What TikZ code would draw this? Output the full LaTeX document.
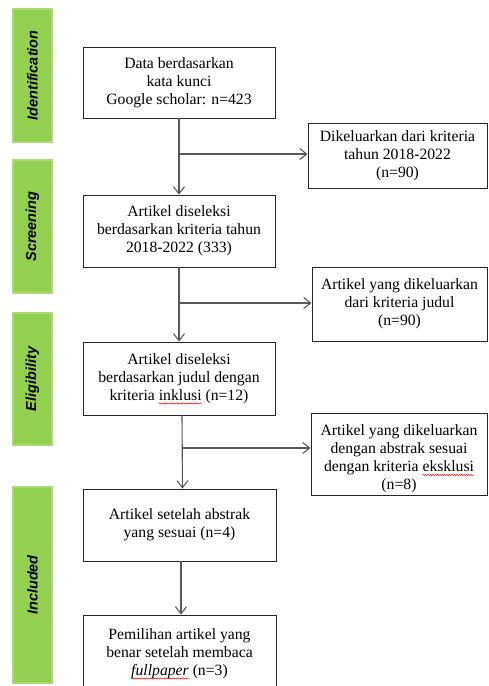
\documentclass[tikz,border=0pt]{standalone}
\usepackage{fontspec}
\setmainfont{Liberation Serif}
\setsansfont{Liberation Sans}
\usetikzlibrary{arrows.meta,calc,decorations.pathmorphing}
\definecolor{barfill}{HTML}{92D050}
\definecolor{baredge}{HTML}{A9DA74}
\definecolor{lineg}{HTML}{595959}
\newcommand{\boxfont}{\fontsize{15.7}{18}\selectfont}
\newlength\fullA \newlength\preA \newlength\wordA
\newlength\fullB \newlength\preB \newlength\wordB
\newlength\fullC \newlength\preC \newlength\wordC
\begin{document}
\settowidth{\fullA}{\boxfont kriteria inklusi (n=12)}
\settowidth{\preA}{\boxfont kriteria }
\settowidth{\wordA}{\boxfont inklusi}
\settowidth{\fullB}{\boxfont dengan kriteria eksklusi}
\settowidth{\preB}{\boxfont dengan kriteria }
\settowidth{\wordB}{\boxfont eksklusi}
\settowidth{\fullC}{\boxfont \textit{fullpaper} (n=3)}
\settowidth{\preC}{\boxfont }
\settowidth{\wordC}{\boxfont \textit{fullpaper}}
\begin{tikzpicture}[x=1pt,y=-1pt,
  bar/.style={fill=barfill,draw=baredge,line width=1.2pt,minimum width=39pt,inner sep=0pt},
  barlabel/.style={rotate=90,font=\fontsize{14.5}{17}\selectfont\sffamily\bfseries\itshape},
  box/.style={draw=black!85,line width=0.9pt,inner sep=0pt},
  boxtext/.style={align=center,font=\boxfont,inner sep=0pt},
  conn/.style={draw=lineg,line width=1.1pt},
  arr/.style={conn,-{Straight Barb[length=7pt,width=11pt,line width=1.1pt]}},
  spell/.style={draw=red,line width=0.5pt,decorate,decoration={snake,amplitude=0.6pt,segment length=2.4pt}}]
\useasboundingbox (0,0) rectangle (488,686);
\clip (0,0) rectangle (488,686);
% stage bars
\node[bar,minimum height=133pt] (s1) at (32.5,75.5) {};
\node[barlabel] (l1) at (s1) {Identification};
\node[bar,minimum height=133pt] (s2) at (32.5,226.5) {};
\node[barlabel] (l2) at (s2) {Screening};
\node[bar,minimum height=132pt] (s3) at (32.5,379) {};
\node[barlabel] (l3) at (s3) {Eligibility};
\node[bar,minimum height=196pt] (s4) at (32.5,585) {};
\node[barlabel] (l4) at (s4) {Included};
% main boxes
\node[box,boxtext,minimum width=192pt,minimum height=71pt] (b1) at (179,82.5)
  {Data berdasarkan\\kata kunci\\Google scholar: n=423};
\node[box,boxtext,minimum width=192pt,minimum height=72pt] (b2) at (179,231)
  {Artikel diseleksi\\berdasarkan kriteria tahun\\2018-2022 (333)};
\node[box,boxtext,minimum width=192pt,minimum height=73pt] (b3) at (179,378.5)
  {Artikel diseleksi\\berdasarkan judul dengan\\kriteria inklusi (n=12)};
\node[box,boxtext,minimum width=193pt,minimum height=72pt] (b4) at (179.5,525)
  {Artikel setelah abstrak\\yang sesuai (n=4)};
\node[box,boxtext,minimum width=193pt,minimum height=77pt] (b5) at (179.5,653.5)
  {Pemilihan artikel yang\\benar setelah membaca\\\textit{fullpaper} (n=3)};
% excluded boxes
\node[box,boxtext,minimum width=179pt,minimum height=65pt] (e1) at (397.5,155.5)
  {Dikeluarkan dari kriteria\\tahun 2018-2022\\(n=90)};
\node[box,boxtext,minimum width=175pt,minimum height=74pt] (e2) at (399.5,304)
  {Artikel yang dikeluarkan\\dari kriteria judul\\(n=90)};
\node[box,minimum width=176pt,minimum height=82pt] (e3) at (399,454) {};
\node[boxtext] (e3t) at (399,459)
  {Artikel yang dikeluarkan\\dengan abstrak sesuai\\dengan kriteria eksklusi\\(n=8)};
% spell-check underlines
\coordinate (wa) at ([xshift=-0.5\fullA+\preA,yshift=-25pt]b3.center);
\draw[spell] (wa) -- ++(\wordA,0pt);
\coordinate (wb) at ([xshift=-0.5\fullB+\preB,yshift=-16pt]e3t.center);
\draw[spell] (wb) -- ++(\wordB,0pt);
\coordinate (wc) at ([xshift=-0.5\fullC+\preC,yshift=-25pt]b5.center);
\draw[spell] (wc) -- ++(\wordC,0pt);
% connectors
\draw[arr] (b1.south) -- (b2.north);
\coordinate (j1) at (179,154);
\draw[arr] (j1) -- (e1.west |- j1);
\draw[arr] (b2.south) -- (b3.north);
\coordinate (j2) at (179,303);
\draw[arr] (j2) -- (e2.west |- j2);
\draw[arr] ([xshift=3pt]b3.south) -- ([xshift=3pt]b4.north);
\coordinate (j3) at (182,448);
\draw[arr] (j3) -- (e3.west |- j3);
\draw[arr] ([xshift=1.5pt]b4.south) -- ([xshift=1.5pt]b5.north);
\end{tikzpicture}
\end{document}
